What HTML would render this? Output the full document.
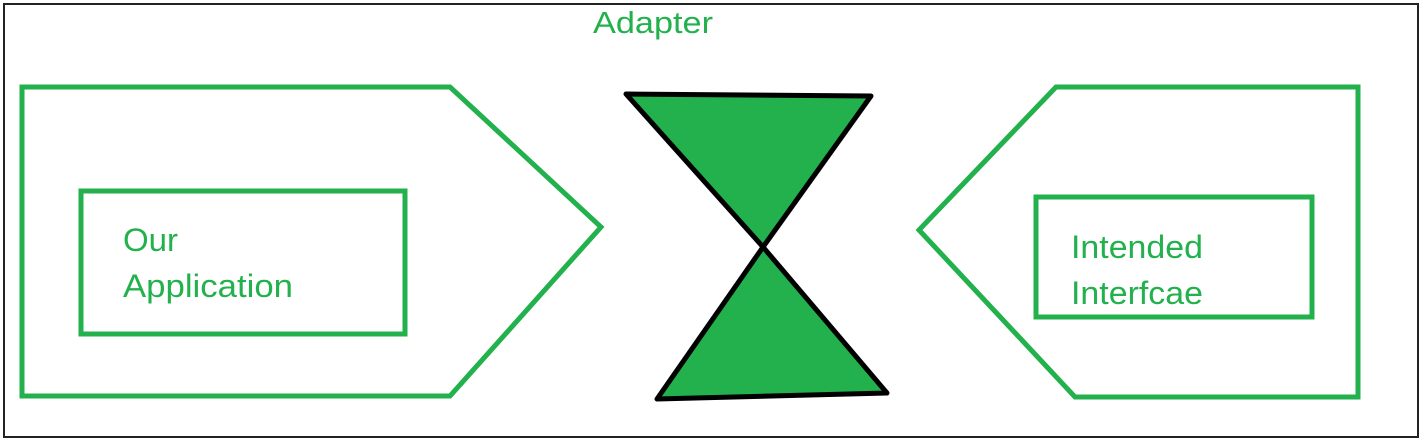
<!DOCTYPE html>
<html><head><meta charset="utf-8"><style>
html,body{margin:0;padding:0;background:#fff;width:1422px;height:441px;overflow:hidden}
svg{display:block}
text{font-family:"Liberation Sans",sans-serif;fill:#22b14c}
</style></head><body>
<svg width="1422" height="441" viewBox="0 0 1422 441">
<rect x="4" y="4" width="1414" height="433" fill="#fff" stroke="#222" stroke-width="2"/>
<text x="593" y="33" font-size="31" textLength="120" lengthAdjust="spacingAndGlyphs">Adapter</text>
<polygon points="22,87 450,87 601,227 450,396 22,396" fill="none" stroke="#22b14c" stroke-width="5"/>
<rect x="81" y="191" width="324" height="143" fill="none" stroke="#22b14c" stroke-width="5"/>
<text x="123" y="251" font-size="32" textLength="55" lengthAdjust="spacingAndGlyphs">Our</text>
<text x="123" y="297" font-size="32" textLength="170" lengthAdjust="spacingAndGlyphs">Application</text>
<polygon points="1056,87 1358,87 1358,397 1075,397 919,230" fill="none" stroke="#22b14c" stroke-width="5"/>
<rect x="1036" y="197" width="276" height="120" fill="none" stroke="#22b14c" stroke-width="5"/>
<text x="1071" y="258" font-size="32" textLength="132" lengthAdjust="spacingAndGlyphs">Intended</text>
<text x="1071" y="304" font-size="32" textLength="132" lengthAdjust="spacingAndGlyphs">Interfcae</text>
<polygon points="626,94 871,96 763,247" fill="#22b14c" stroke="#000" stroke-width="5" stroke-linejoin="round"/>
<polygon points="763,247 657,399 887,393" fill="#22b14c" stroke="#000" stroke-width="5" stroke-linejoin="round"/>
</svg>
</body></html>
